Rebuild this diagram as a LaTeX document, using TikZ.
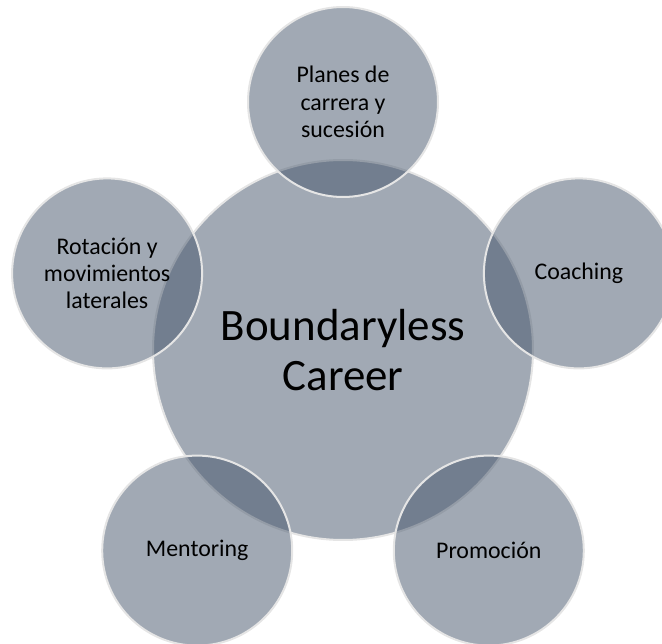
\documentclass[tikz,border=0pt]{standalone}
\usepackage{fontspec}
\setmainfont{Carlito}
\definecolor{careerS}{RGB}{68,84,106}
\definecolor{careerE}{RGB}{229,229,229}

\begin{document}
\begin{tikzpicture}[x=0.75pt,y=0.75pt,
  bubble/.style={circle,draw=careerE,line width=1.5pt,fill=careerS,fill opacity=0.5,text opacity=1,text=black,align=center,inner sep=0pt},
  hub/.style={bubble,minimum size=285pt,font=\fontsize{33.7}{37.5}\selectfont},
  spoke/.style={bubble,minimum size=142.5pt,font=\fontsize{17.9}{20.6}\selectfont}]
\useasboundingbox (0,0) rectangle (662,644);
\node[hub] (bc) at (343,294) {Boundaryless\\Career};
\node[spoke] (plan) at (343,542) {Planes de\\carrera y\\sucesión};
\node[spoke] (coach) at (578.9,370.6) {Coaching};
\node[spoke] (promo) at (488.8,93.4) {Promoción};
\node[spoke] (ment) at (197.2,93.4) {Mentoring};
\node[spoke] (rot) at (107.1,370.6) {Rotación y\\movimientos\\laterales};
\end{tikzpicture}
\end{document}
